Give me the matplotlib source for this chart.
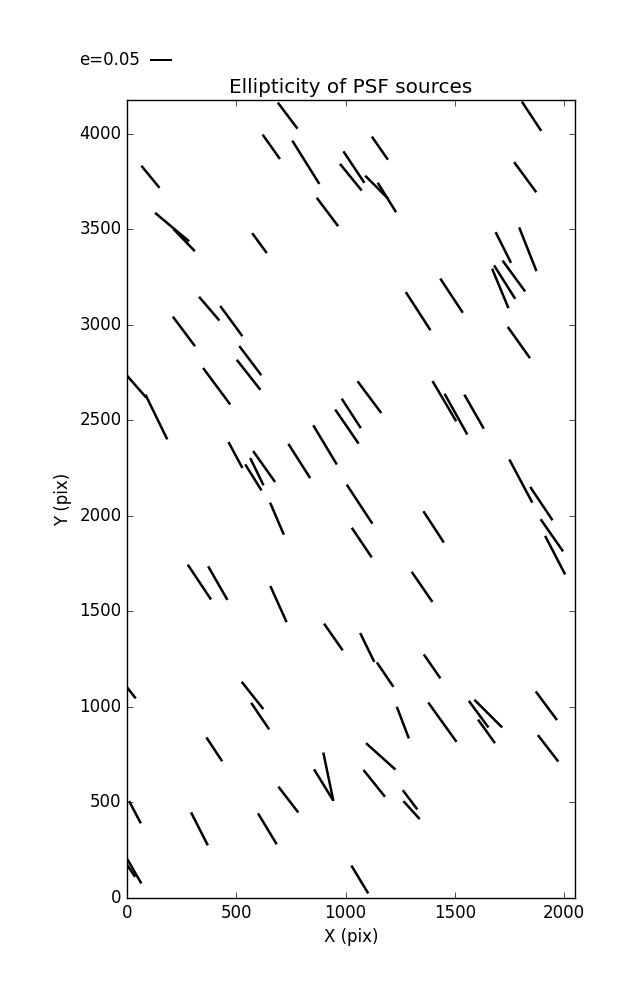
import numpy as np
import matplotlib
matplotlib.use("Agg")
import matplotlib.pyplot as plt

# PSF source positions (pix), ellipticity and position angle (deg, screen frame)
x_pix = [735, 660, 818, 107, 206, 261, 917, 606, 376, 477,
         260, 564, 556, 410, 23, 134, 496, 578, 594, 627,
         788, 906, 1006, 1026, 1064, 686, 331, 415, 693, 944,
         1851, 1157, 1038, 1024, 1143, 1189, 1822, 1722, 1834, 1708,
         1728, 1770, 1332, 1485, 1793, 1109, 1452, 1505, 1588, 1802,
         1896, 1944, 1959, 1074, 1403, 1350, 1099, 1181, 1396, 1262,
         1443, 1609, 1653, 1645, 1919, 1927, 1161, 1131, 1295, 1302,
         1065, 3, 574, 609, 399, 921, 900, 738, 36, 331,
         642, 33, 6]
y_pix = [4094, 3931, 3850, 3774, 3511, 3443, 3590, 3427, 3084, 3019,
         2965, 2812, 2738, 2678, 2703, 2517, 2318, 2201, 2231, 2258,
         2287, 2371, 2467, 2536, 2061, 1985, 1653, 1648, 1538, 1366,
         4091, 3924, 3825, 3772, 3719, 3666, 3772, 3404, 3395, 3190,
         3223, 3255, 3071, 3152, 2907, 2621, 2600, 2532, 2545, 2182,
         2064, 1898, 1794, 1860, 1942, 1628, 1311, 1169, 1212, 918,
         920, 962, 965, 872, 1006, 783, 741, 600, 514, 460,
         97, 1098, 1060, 952, 778, 635, 591, 515, 449, 362,
         362, 140, 163]
ellip = [0.074, 0.068, 0.116, 0.065, 0.101, 0.070, 0.081, 0.056, 0.071, 0.085,
         0.084, 0.083, 0.087, 0.103, 0.097, 0.113, 0.067, 0.070, 0.069, 0.086,
         0.092, 0.104, 0.094, 0.080, 0.106, 0.079, 0.095, 0.088, 0.090, 0.074,
         0.080, 0.064, 0.086, 0.078, 0.075, 0.079, 0.085, 0.078, 0.107, 0.097,
         0.090, 0.087, 0.103, 0.093, 0.087, 0.090, 0.106, 0.106, 0.089, 0.111,
         0.091, 0.089, 0.099, 0.081, 0.085, 0.083, 0.073, 0.067, 0.066, 0.077,
         0.110, 0.075, 0.089, 0.066, 0.081, 0.076, 0.090, 0.078, 0.055, 0.055,
         0.074, 0.059, 0.079, 0.073, 0.065, 0.112, 0.084, 0.074, 0.057, 0.084,
         0.082, 0.064, 0.055]
theta = [-53.0, -54.6, -58.0, -50.7, -39.9, -46.0, -53.0, -53.7, -49.4, -53.7,
         -53.2, -53.0, -51.8, -53.4, -48.8, -64.0, -61.7, -58.0, -64.0, -54.6,
         -57.5, -59.0, -55.6, -57.1, -56.7, -66.8, -56.3, -60.2, -65.7, -55.0,
         -56.6, -55.2, -56.4, -50.9, -45.0, -58.1, -53.7, -63.4, -68.4, -67.5,
         -57.8, -53.8, -57.1, -56.6, -54.6, -53.2, -59.5, -60.8, -60.3, -62.0,
         -56.2, -55.1, -62.6, -56.0, -56.9, -55.5, -64.0, -55.8, -55.3, -69.2,
         -54.3, -53.6, -44.9, -54.3, -53.4, -52.4, -41.9, -51.3, -52.9, -47.7,
         -58.8, -52.0, -51.6, -55.9, -56.5, -78.3, -58.4, -52.4, -62.3, -63.0,
         -58.9, -60.0, -56.0]

E_KEY = 0.05
XMAX, YMAX = 2048, 4176

plt.style.use("classic")
fig = plt.figure(figsize=(6.37, 10.0), dpi=100, facecolor="white")
ax = fig.add_axes([0.1995, 0.102, 0.7025, 0.798])
ax.set_facecolor("white")

th = np.deg2rad(theta)
U = np.array(ellip) * np.cos(th)
V = np.array(ellip) * np.sin(th)
q = ax.quiver(x_pix, y_pix, U, V, pivot="middle", angles="uv",
              scale_units="inches", scale=E_KEY / 0.22, units="inches", width=0.025,
              headwidth=1, headlength=0, headaxislength=0, color="black")
# key arrow is anchored at its tail when the label sits to the west
ax.quiverkey(q, 0.2355, 0.94, E_KEY, "e=%.2f" % E_KEY, labelpos="W",
             coordinates="figure", fontproperties={"size": 12})

ax.set_xlim(0, XMAX)
ax.set_ylim(0, YMAX)
ax.set_xticks(np.arange(0, 2001, 500))
ax.set_yticks(np.arange(0, 4001, 500))
ax.set_xlabel("X (pix)")
ax.set_ylabel("Y (pix)")
ax.set_title("Ellipticity of PSF sources")

fig.savefig("out.png", dpi=100, facecolor="white")
